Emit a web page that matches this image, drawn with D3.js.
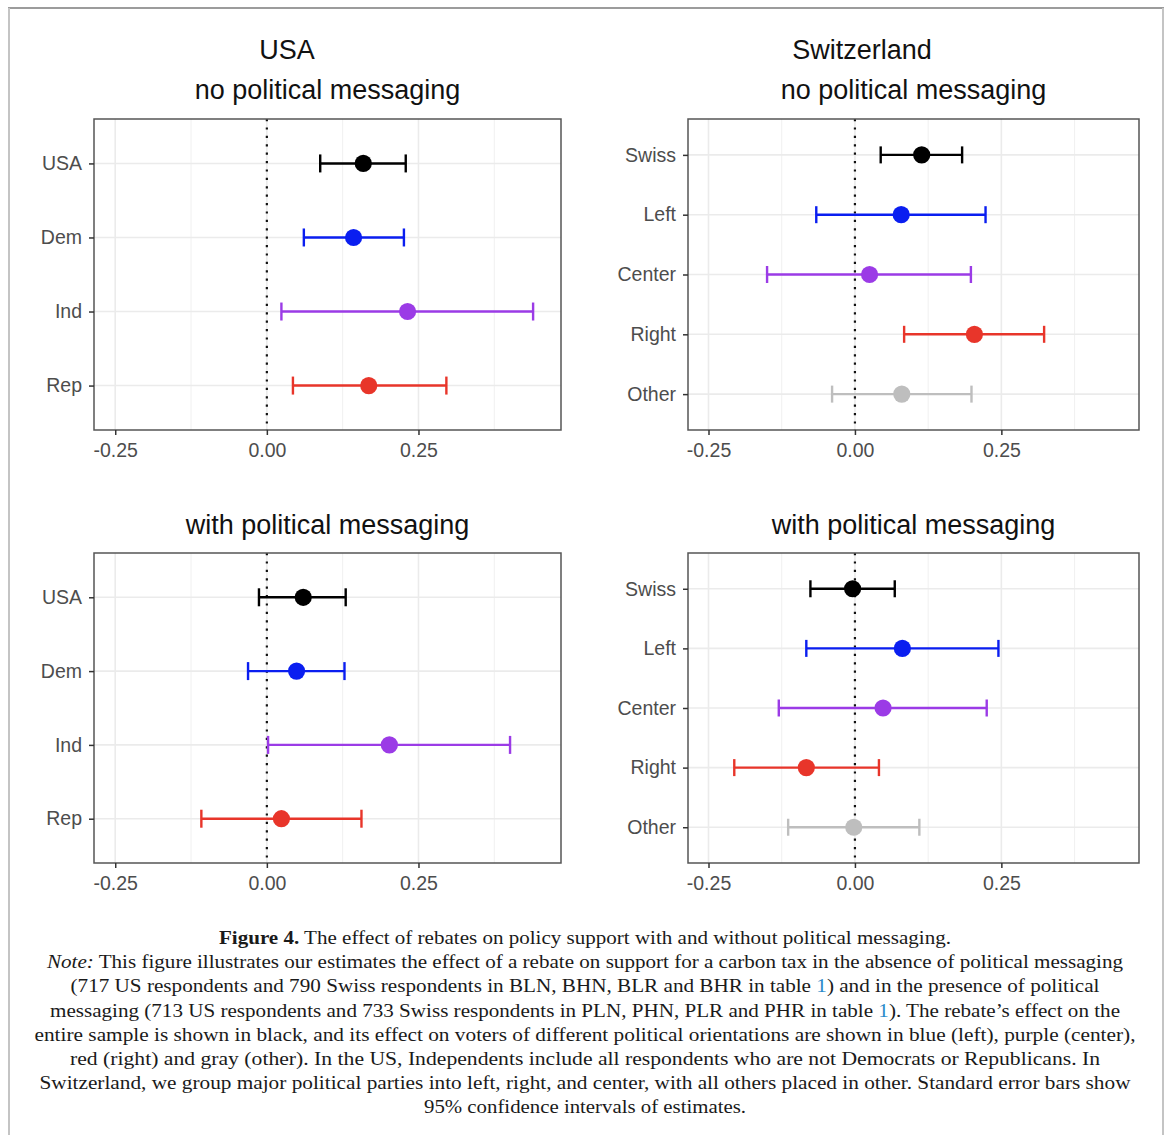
<!DOCTYPE html>
<html>
<head>
<meta charset="utf-8">
<script src="https://cdn.jsdelivr.net/npm/d3@7"></script>
<style>
  body { margin: 0; background: #fff; }
  svg { display: block; }
</style>
</head>
<body>
<div id="chart"></div>
<script>
// categories
var usaCats = ["USA", "Dem", "Ind", "Rep"];
var swissCats = ["Swiss", "Left", "Center", "Right", "Other"];

// USA, no political messaging
var usaNoEst  = [0.159, 0.143, 0.232, 0.168];
var usaNoLow  = [0.088, 0.061, 0.024, 0.043];
var usaNoHigh = [0.229, 0.226, 0.439, 0.296];

// USA, with political messaging
var usaMsgEst  = [0.060, 0.049, 0.202, 0.024];
var usaMsgLow  = [-0.013, -0.031, 0.002, -0.108];
var usaMsgHigh = [0.130, 0.128, 0.401, 0.156];

// Switzerland, no political messaging
var chNoEst  = [0.114, 0.079, 0.025, 0.204, 0.080];
var chNoLow  = [0.044, -0.066, -0.150, 0.084, -0.039];
var chNoHigh = [0.183, 0.223, 0.198, 0.323, 0.199];

// Switzerland, with political messaging
var chMsgEst  = [-0.004, 0.081, 0.048, -0.083, -0.002];
var chMsgLow  = [-0.076, -0.083, -0.130, -0.206, -0.114];
var chMsgHigh = [0.068, 0.245, 0.225, 0.041, 0.110];

var xTicks = [-0.25, 0, 0.25];
var xMinor = [-0.125, 0.125, 0.375];

var colors = ["#000000", "#0a1ef0", "#9b3be6", "#e8352a", "#bebebe"];

var width = 1169, height = 1135;

var svg = d3.select("#chart")
  .append("svg")
    .attr("width", width)
    .attr("height", height)
    .style("font-family", "'Liberation Sans', Arial, Helvetica, sans-serif");

// outer frame of the figure
svg.append("line").attr("x1", 8).attr("x2", 1164).attr("y1", 8).attr("y2", 8)
  .attr("stroke", "#9c9c9c").attr("stroke-width", 2);
svg.append("line").attr("x1", 9).attr("x2", 9).attr("y1", 8).attr("y2", height)
  .attr("stroke", "#c4c4c4").attr("stroke-width", 2);
svg.append("line").attr("x1", 1163).attr("x2", 1163).attr("y1", 8).attr("y2", height)
  .attr("stroke", "#c4c4c4").attr("stroke-width", 2);

function drawPanel(box, cats, est, low, high, capH) {
  var x = d3.scaleLinear()
    .domain([-0.285, 0.485])
    .range([box.left, box.right]);
  var y = d3.scalePoint()
    .domain(cats)
    .range([box.top, box.bottom])
    .padding(0.6);

  var g = svg.append("g");

  // grid
  g.selectAll(".minor").data(xMinor).enter().append("line")
    .attr("x1", function(d) { return x(d); }).attr("x2", function(d) { return x(d); })
    .attr("y1", box.top).attr("y2", box.bottom)
    .attr("stroke", "#f0f0f0").attr("stroke-width", 1);
  g.selectAll(".major").data(xTicks).enter().append("line")
    .attr("x1", function(d) { return x(d); }).attr("x2", function(d) { return x(d); })
    .attr("y1", box.top).attr("y2", box.bottom)
    .attr("stroke", "#ebebeb").attr("stroke-width", 1.6);
  g.selectAll(".hgrid").data(cats).enter().append("line")
    .attr("x1", box.left).attr("x2", box.right)
    .attr("y1", function(d) { return y(d); }).attr("y2", function(d) { return y(d); })
    .attr("stroke", "#ebebeb").attr("stroke-width", 1.6);

  // dotted zero line
  g.append("line")
    .attr("x1", x(0)).attr("x2", x(0))
    .attr("y1", box.top).attr("y2", box.bottom)
    .attr("stroke", "#111").attr("stroke-width", 2.2)
    .attr("stroke-dasharray", "2.2,6.2");

  var rows = cats.map(function(c, i) {
    return { cat: c, est: est[i], low: low[i], high: high[i], col: colors[i] };
  });

  // error bars
  var bars = g.selectAll(".bar").data(rows).enter().append("g");
  bars.append("line")
    .attr("x1", function(d) { return x(d.low); })
    .attr("x2", function(d) { return x(d.high); })
    .attr("y1", function(d) { return y(d.cat); })
    .attr("y2", function(d) { return y(d.cat); })
    .attr("stroke", function(d) { return d.col; })
    .attr("stroke-width", 2.4);
  bars.append("line")
    .attr("x1", function(d) { return x(d.low); })
    .attr("x2", function(d) { return x(d.low); })
    .attr("y1", function(d) { return y(d.cat) - capH / 2; })
    .attr("y2", function(d) { return y(d.cat) + capH / 2; })
    .attr("stroke", function(d) { return d.col; })
    .attr("stroke-width", 2.4);
  bars.append("line")
    .attr("x1", function(d) { return x(d.high); })
    .attr("x2", function(d) { return x(d.high); })
    .attr("y1", function(d) { return y(d.cat) - capH / 2; })
    .attr("y2", function(d) { return y(d.cat) + capH / 2; })
    .attr("stroke", function(d) { return d.col; })
    .attr("stroke-width", 2.4);
  bars.append("circle")
    .attr("cx", function(d) { return x(d.est); })
    .attr("cy", function(d) { return y(d.cat); })
    .attr("r", 8.6)
    .attr("fill", function(d) { return d.col; });

  // panel border
  g.append("rect")
    .attr("x", box.left).attr("y", box.top)
    .attr("width", box.right - box.left)
    .attr("height", box.bottom - box.top)
    .attr("fill", "none")
    .attr("stroke", "#555")
    .attr("stroke-width", 1.5);

  // axes
  var xa = g.append("g")
    .attr("transform", "translate(0," + box.bottom + ")")
    .call(d3.axisBottom(x).tickValues(xTicks).tickSize(5).tickPadding(8)
      .tickFormat(function(d) { return d.toFixed(2); }));
  var ya = g.append("g")
    .attr("transform", "translate(" + box.left + ",0)")
    .call(d3.axisLeft(y).tickSize(5).tickPadding(7));
  [xa, ya].forEach(function(a) {
    a.select(".domain").remove();
    a.selectAll(".tick line").attr("stroke", "#333").attr("stroke-width", 1.5);
    a.selectAll(".tick text")
      .attr("fill", "#4d4d4d")
      .style("font-size", "19.5px")
      .style("font-family", "'Liberation Sans', Arial, sans-serif");
  });
}

var tl = { left: 94, right: 561, top: 119, bottom: 430 };
var tr = { left: 688, right: 1139, top: 119, bottom: 430 };
var bl = { left: 94, right: 561, top: 553, bottom: 863 };
var br = { left: 688, right: 1139, top: 553, bottom: 863 };

drawPanel(tl, usaCats, usaNoEst, usaNoLow, usaNoHigh, 18);
drawPanel(tr, swissCats, chNoEst, chNoLow, chNoHigh, 17);
drawPanel(bl, usaCats, usaMsgEst, usaMsgLow, usaMsgHigh, 18);
drawPanel(br, swissCats, chMsgEst, chMsgLow, chMsgHigh, 17);

// panel titles
function title(txt, cx, base) {
  svg.append("text")
    .attr("x", cx).attr("y", base)
    .attr("text-anchor", "middle")
    .style("font-size", "27px")
    .attr("fill", "#111")
    .text(txt);
}
title("USA", 287, 59);
title("Switzerland", 862, 59);
title("no political messaging", (tl.left + tl.right) / 2, 99);
title("no political messaging", (tr.left + tr.right) / 2, 99);
title("with political messaging", (bl.left + bl.right) / 2, 534);
title("with political messaging", (br.left + br.right) / 2, 534);

// caption below the figure
var captionLines = [
  [["Figure 4.", "b"], [" The effect of rebates on policy support with and without political messaging.", ""]],
  [["Note:", "i"], [" This figure illustrates our estimates the effect of a rebate on support for a carbon tax in the absence of political messaging", ""]],
  [["(717 US respondents and 790 Swiss respondents in BLN, BHN, BLR and BHR in table ", ""], ["1", "l"], [") and in the presence of political", ""]],
  [["messaging (713 US respondents and 733 Swiss respondents in PLN, PHN, PLR and PHR in table ", ""], ["1", "l"], ["). The rebate\u2019s effect on the", ""]],
  [["entire sample is shown in black, and its effect on voters of different political orientations are shown in blue (left), purple (center),", ""]],
  [["red (right) and gray (other). In the US, Independents include all respondents who are not Democrats or Republicans. In", ""]],
  [["Switzerland, we group major political parties into left, right, and center, with all others placed in other. Standard error bars show", ""]],
  [["95% confidence intervals of estimates.", ""]]
];
var captionWidths = [732, 1076, 1029, 1070, 1101, 1030, 1091, 322];

captionLines.forEach(function(parts, i) {
  var t = svg.append("text")
    .attr("x", 585)
    .attr("y", 944 + i * 24.2)
    .attr("text-anchor", "middle")
    .attr("textLength", captionWidths[i])
    .attr("lengthAdjust", "spacingAndGlyphs")
    .style("font-family", "'Liberation Serif', 'Times New Roman', serif")
    .style("font-size", "19.5px")
    .attr("fill", "#1a1a1a");
  parts.forEach(function(p) {
    var s = t.append("tspan").text(p[0]);
    if (p[1] === "b") s.style("font-weight", "bold");
    if (p[1] === "i") s.style("font-style", "italic");
    if (p[1] === "l") s.attr("fill", "#2b8ac9");
  });
});
</script>
</body>
</html>
